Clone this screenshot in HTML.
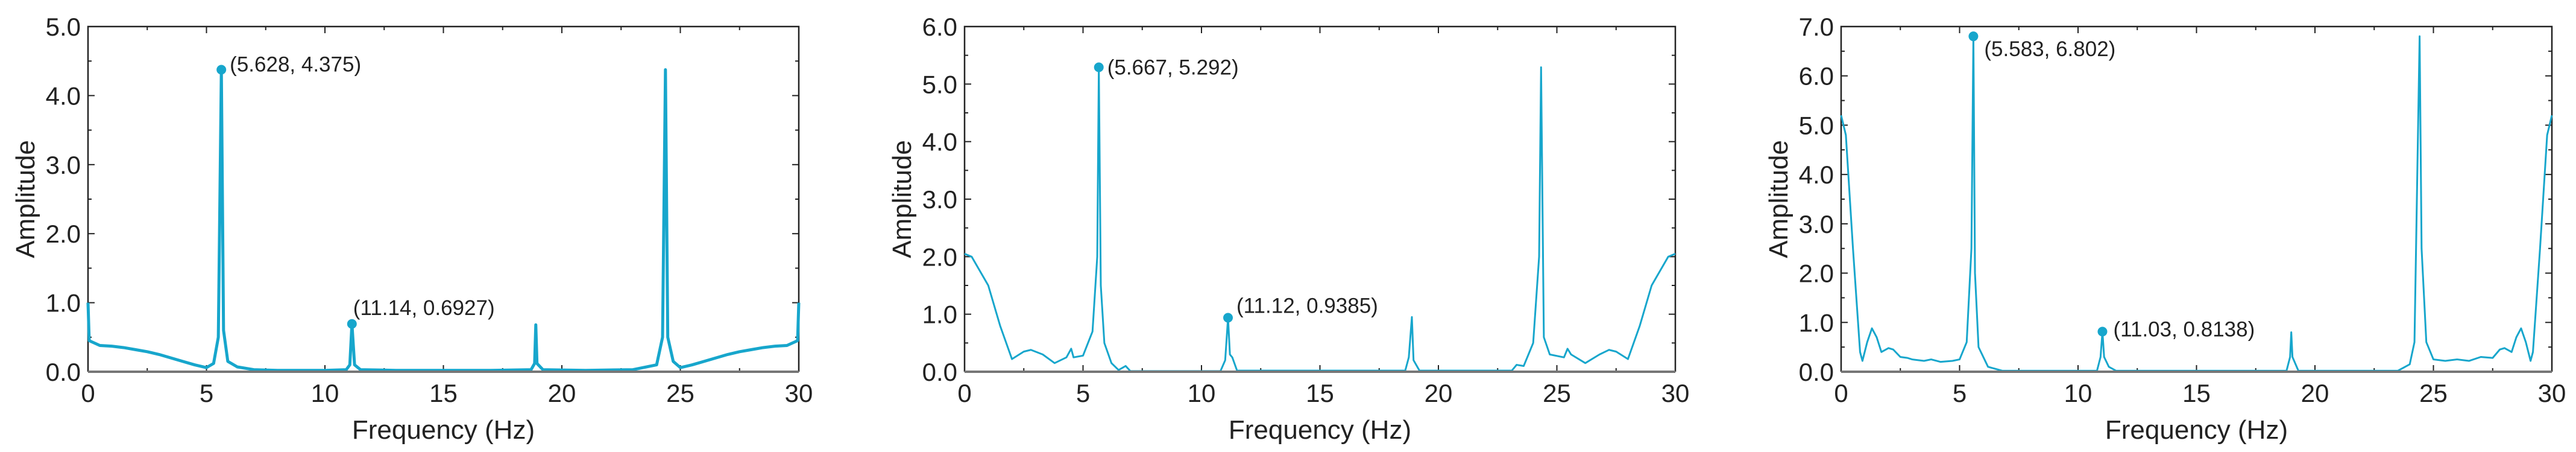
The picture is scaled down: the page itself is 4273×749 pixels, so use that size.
<!DOCTYPE html>
<html><head><meta charset="utf-8">
<style>
html,body{margin:0;padding:0;background:#fff;}
svg{display:block;font-family:"Liberation Sans",Arial,sans-serif;}
</style></head>
<body>
<svg id="chart" width="4273" height="749" viewBox="0 0 4273 749" xmlns="http://www.w3.org/2000/svg"></svg>
<script>
// ---- data ----
const xTicks = [0, 5, 10, 15, 20, 25, 30];
const yMax1 = 5, yMax2 = 6, yMax3 = 7;
const freq1 = [0,0.05,0.5,1,1.5,2,2.5,3,3.5,4,4.5,5,5.3,5.5,5.628,5.72,5.9,6.3,7,8,9,10,10.9,11.05,11.14,11.25,11.5,13,15,17,18.7,18.85,18.9,18.95,19.2,21,23,24,24.25,24.372,24.47,24.7,25,25.5,26,26.5,27,27.5,28,28.5,29,29.5,29.95,30];
const amp1  = [1.0,0.45,0.38,0.37,0.35,0.32,0.29,0.25,0.2,0.15,0.1,0.06,0.12,0.5,4.375,0.6,0.15,0.07,0.03,0.02,0.02,0.02,0.03,0.1,0.6927,0.1,0.03,0.02,0.02,0.02,0.03,0.12,0.68,0.12,0.03,0.02,0.03,0.1,0.5,4.375,0.5,0.15,0.06,0.1,0.15,0.2,0.25,0.29,0.32,0.35,0.37,0.38,0.45,1.0];
const freq2 = [0,0.3,1,1.5,2,2.5,2.8,3.3,3.8,4.3,4.5,4.6,5,5.4,5.6,5.667,5.75,5.9,6.2,6.5,6.8,7,10.8,11.0,11.12,11.2,11.3,11.5,18.6,18.75,18.88,18.95,19.2,23.1,23.3,23.6,24.0,24.25,24.333,24.45,24.7,25.3,25.45,25.6,26.2,26.8,27.2,27.5,28,28.5,29,29.7,30];
const amp2  = [2.05,2.0,1.5,0.8,0.22,0.35,0.38,0.3,0.15,0.25,0.4,0.25,0.28,0.7,2.0,5.292,1.5,0.5,0.15,0.03,0.1,0.01,0.01,0.2,0.9385,0.3,0.25,0.02,0.02,0.25,0.95,0.2,0.02,0.02,0.12,0.1,0.5,2.0,5.292,0.6,0.3,0.25,0.4,0.3,0.15,0.3,0.38,0.35,0.22,0.8,1.5,2.0,2.05];
const freq3 = [0,0.2,0.5,0.8,0.9,1.1,1.3,1.5,1.7,2.0,2.2,2.5,2.8,3,3.5,3.8,4.2,4.7,5.0,5.3,5.5,5.583,5.65,5.8,6.2,6.8,10.8,10.95,11.03,11.1,11.3,11.6,18.8,18.95,19.0,19.05,19.3,23.5,24.0,24.2,24.417,24.5,24.7,25,25.5,26,26.5,27,27.5,27.8,28,28.3,28.5,28.7,28.9,29.1,29.2,29.5,29.8,30];
const amp3  = [5.2,4.8,2.5,0.4,0.22,0.6,0.88,0.7,0.4,0.48,0.45,0.3,0.28,0.25,0.22,0.25,0.2,0.22,0.25,0.6,2.5,6.802,2.0,0.5,0.1,0.02,0.02,0.3,0.8138,0.3,0.1,0.02,0.02,0.3,0.8,0.3,0.02,0.02,0.15,0.6,6.802,2.5,0.6,0.25,0.22,0.25,0.22,0.3,0.28,0.45,0.48,0.4,0.7,0.88,0.6,0.22,0.4,2.5,4.8,5.2];
const markF1 = [5.628, 11.14], markA1 = [4.375, 0.6927];
const markF2 = [5.667, 11.12], markA2 = [5.292, 0.9385];
const markF3 = [5.583, 11.03], markA3 = [6.802, 0.8138];
const markLabels1 = ["(5.628, 4.375)", "(11.14, 0.6927)"];
const markLabels2 = ["(5.667, 5.292)", "(11.12, 0.9385)"];
const markLabels3 = ["(5.583, 6.802)", "(11.03, 0.8138)"];

const NS = "http://www.w3.org/2000/svg";
const svg = document.getElementById("chart");
const COLOR = "#17a6cc";
function mk(tag, attrs, parent){ const e=document.createElementNS(NS,tag); for(const k in attrs) e.setAttribute(k,attrs[k]); parent.appendChild(e); return e; }

function panel(idx, left, yMax, freq, amp, mf, ma, mlabels, labelPos, strokeW){
  const top=44, bottom=616, W=1179, H=bottom-top;
  const X = f => left + f/30*W;
  const Y = a => bottom - a/yMax*H;
  const g = mk("g",{},svg);
  
  
  // frame
  const fr = mk("path",{d:`M${left},${bottom} L${left},${top} L${left+W},${top} L${left+W},${bottom}`,fill:"none",stroke:"#222","stroke-width":2.5},g);
  
  
  // ticks
  for(let v=0; v<=30; v+=2.5){
    const L = (v%5===0)?11:6;
    mk("line",{x1:X(v),x2:X(v),y1:bottom,y2:bottom-L,stroke:"#222","stroke-width":2},g);
    mk("line",{x1:X(v),x2:X(v),y1:top,y2:top+L,stroke:"#222","stroke-width":2},g);
  }
  for(let v=0; v<=yMax+1e-9; v+=0.5){
    const L = (Math.abs(v-Math.round(v))<1e-9)?11:6;
    mk("line",{x1:left,x2:left+L,y1:Y(v),y2:Y(v),stroke:"#222","stroke-width":2},g);
    mk("line",{x1:left+W,x2:left+W-L,y1:Y(v),y2:Y(v),stroke:"#222","stroke-width":2},g);
  }
  xTicks.forEach(v=>{
    const t=mk("text",{x:X(v),y:666,"text-anchor":"middle","font-size":42,fill:"#222"},g);
    t.textContent=v;
    
    
  });
  for(let v=0; v<=yMax; v++){
    const t=mk("text",{x:left-12,y:Y(v)+15,"text-anchor":"end","font-size":42,fill:"#222"},g);
    t.textContent=v.toFixed(1);
    
    
  }
  const xt=mk("text",{x:left+W/2,y:727,"text-anchor":"middle","font-size":44,fill:"#222"},g);
  xt.textContent="Frequency (Hz)";
  
  
  const yt=mk("text",{x:0,y:0,"text-anchor":"middle","font-size":44,fill:"#222",transform:`translate(${left-89},${(top+bottom)/2}) rotate(-90)`},g);
  yt.textContent="Amplitude";
  
  
  // series
  let d="";
  freq.forEach((f,i)=>{ d+=(i?"L":"M")+X(f).toFixed(2)+","+Y(amp[i]).toFixed(2)+" "; });
  const ln=mk("path",{d:d,fill:"none",stroke:COLOR,"stroke-width":strokeW,"stroke-linejoin":"round"},g);
  
  
  // baseline (thick gray bottom axis)
  const bl=mk("line",{x1:left,x2:left+W,y1:bottom,y2:bottom,stroke:"#777","stroke-width":4},g);
  
  
  // markers
  mf.forEach((f,i)=>{
    const c=mk("circle",{cx:X(f),cy:Y(ma[i]),r:8,fill:COLOR},g);
    
    
    const p=labelPos[i];
    const t=mk("text",{x:X(f)+p[0],y:Y(ma[i])+p[1],"font-size":35,fill:"#222"},g);
    t.textContent=mlabels[i];
    
    
  });
}
panel(1,146,yMax1,freq1,amp1,markF1,markA1,markLabels1,[[14,3],[2,-15]],5);
panel(2,1600,yMax2,freq2,amp2,markF2,markA2,markLabels2,[[14,12],[14,-8]],3);
panel(3,3054,yMax3,freq3,amp3,markF3,markA3,markLabels3,[[18,33],[18,8]],3);
</script>
</body></html>
